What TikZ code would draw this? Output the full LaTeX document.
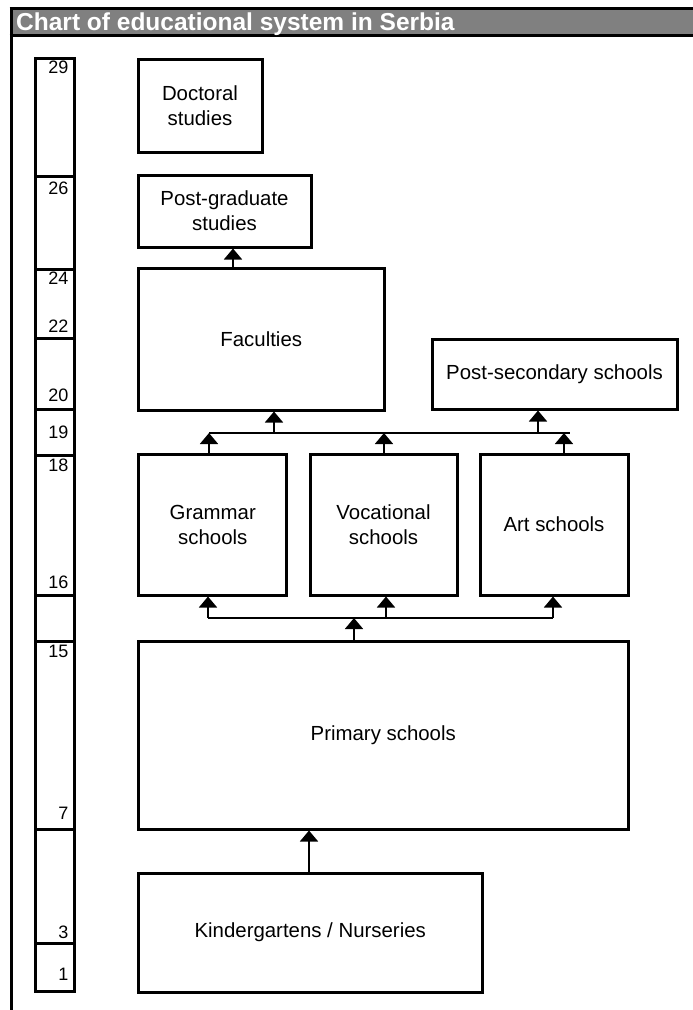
\documentclass[tikz,border=0pt]{standalone}
\usepackage{fontspec}
\setmainfont{Liberation Sans}
\usetikzlibrary{arrows.meta}
\begin{document}
\begin{tikzpicture}[x=1pt,y=-1pt,
  box/.style={draw,line width=3pt,inner sep=0pt,align=center,
    font=\fontsize{20.4}{25}\selectfont},
  age/.style={anchor=east,inner sep=0pt,font=\fontsize{18}{20}\selectfont},
  agebox/.style={draw,line width=3pt},
  arr/.style={line width=1.6pt,-{Triangle[width=18pt,length=11pt]}},
  bus/.style={line width=1.3pt}]
\useasboundingbox (0,0) rectangle (693,1010);
% header
\fill[fill={rgb,255:red,128;green,128;blue,128}] (11,8.5) rectangle (693,35.5);
\draw[line width=3pt] (9.5,8.5) -- (693,8.5);
\draw[line width=3pt] (9.5,35.5) -- (693,35.5);
\draw[line width=3pt] (11,7) -- (11,1010);
\node[anchor=base west,inner sep=0pt,text=white,font=\fontsize{24.5}{26}\selectfont\bfseries] (title) at (16,30.5) {Chart of educational system in Serbia};
% age column
\foreach \a/\b in {58/176,176/269,269/338,338/409,409/455,455/595,595/641,641/829,829/943,943/991}
  \draw[agebox] (35,\a) rectangle (74,\b);
\foreach \t/\y in {29/67,26/188,24/278,22/326,20/395,19/432,18/465.5,16/582,15/651,7/813,3/932,1/974}
  \node[age] (age\t) at (68.5,\y) {\t};
% boxes
\node[box,minimum width=124pt,minimum height=93pt] (doc) at (200,105.5) {Doctoral\\studies};
\node[box,minimum width=173pt,minimum height=72pt] (pg) at (224.5,211) {Post-graduate\\studies};
\node[box,minimum width=246pt,minimum height=142pt] (fac) at (261.25,339) {Faculties};
\node[box,minimum width=245pt,minimum height=70pt] (ps) at (554.5,374) {Post-secondary schools};
\node[box,minimum width=148pt,minimum height=141pt] (gram) at (212.75,524.5) {Grammar\\schools};
\node[box,minimum width=147pt,minimum height=141pt] (voc) at (383.5,524.5) {Vocational\\schools};
\node[box,minimum width=148pt,minimum height=141pt] (art) at (554,524.5) {Art schools};
\node[box,minimum width=489.5pt,minimum height=188pt] (prim) at (383.25,735) {Primary schools};
\node[box,minimum width=343.5pt,minimum height=119pt] (kind) at (310.25,932.5) {Kindergartens / Nurseries};
% connectors
\draw[arr] (233,0 |- fac.north) -- (233,0 |- pg.south);
\coordinate (ubL) at (209,433);
\coordinate (ubR) at (570,433);
\draw[bus] (ubL) -- (ubR);
\draw[arr] (209,0 |- gram.north) -- (ubL);
\draw[arr] (384,0 |- voc.north) -- (384,433);
\draw[arr] (564,0 |- art.north) -- (564,433);
\draw[arr] (274,433) -- (274,0 |- fac.south);
\draw[arr] (538,433) -- (538,0 |- ps.south);
\coordinate (lbL) at (208,618);
\coordinate (lbR) at (553,618);
\draw[bus] (lbL) -- (lbR);
\draw[arr] (lbL) -- (208,0 |- gram.south);
\draw[arr] (386,618) -- (386,0 |- voc.south);
\draw[arr] (lbR) -- (553,0 |- art.south);
\draw[arr] (354,0 |- prim.north) -- (354,618);
\draw[arr] (309,0 |- kind.north) -- (309,0 |- prim.south);
\end{tikzpicture}
\end{document}
